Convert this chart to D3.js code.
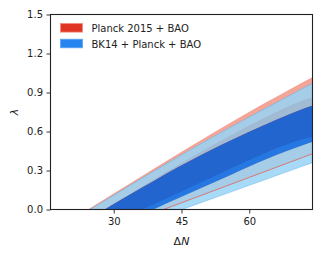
<!DOCTYPE html>
<html>
<head>
<meta charset="utf-8">
<script src="https://cdn.jsdelivr.net/npm/d3@7"></script>
<style>
body { margin: 0; background: #fff; }
svg text { font-family: 'DejaVu Sans', sans-serif; fill: #222; }
</style>
</head>
<body>
<div class="chart"></div>
<script>
// contour boundaries, lambda at each delta N
const DN = [20, 24, 28, 32, 36, 40, 44, 48, 52, 56, 60, 64, 68, 72, 76]
const planckOuterTop = [-0.095, -0.009, 0.077, 0.163, 0.249, 0.334, 0.419, 0.503, 0.586, 0.668, 0.748, 0.826, 0.902, 0.978, 1.05]
const bkOuterTop = [-0.10, -0.015, 0.068, 0.152, 0.236, 0.318, 0.400, 0.480, 0.559, 0.636, 0.712, 0.786, 0.860, 0.935, 1.005]
const planckInnerTop = [-0.16, -0.075, 0.004, 0.088, 0.172, 0.256, 0.339, 0.420, 0.498, 0.574, 0.648, 0.718, 0.785, 0.842, 0.89]
const bkInnerTop = [-0.16, -0.08, 0.0, 0.082, 0.163, 0.243, 0.321, 0.395, 0.466, 0.533, 0.598, 0.66, 0.72, 0.775, 0.82]
const planckInnerBottom = [-0.26, -0.195, -0.13, -0.07, -0.006, 0.058, 0.122, 0.186, 0.25, 0.315, 0.378, 0.44, 0.497, 0.54, 0.575]
const bkInnerBottom = [-0.30, -0.22, -0.15, -0.09, -0.04, 0.02, 0.082, 0.144, 0.206, 0.268, 0.33, 0.39, 0.447, 0.497, 0.54]
const planckOuterBottom = [-0.273, -0.221, -0.169, -0.117, -0.065, -0.013, 0.039, 0.091, 0.143, 0.195, 0.247, 0.299, 0.351, 0.403, 0.455]
const bkOuterBottom = [-0.313, -0.263, -0.213, -0.163, -0.113, -0.064, -0.014, 0.036, 0.086, 0.136, 0.186, 0.236, 0.286, 0.336, 0.385]

const X_TICKS = [30, 45, 60]
const Y_TICKS = [0, 0.3, 0.6, 0.9, 1.2, 1.5]
const LEGEND = ['Planck 2015 + BAO', 'BK14 + Planck + BAO']

const RED = '#e03424'
const RED_PALE = '#f3a597'
const BLUE = '#006fed'
const BLUE_PALE = '#96d3f4'
const ALPHA = 0.85

const width = 328
const height = 258
const margin = { top: 14.5, right: 15.5, bottom: 48.5, left: 50.5 }

const scaleX = d3.scaleLinear().domain([16, 74]).range([margin.left, width - margin.right])
const scaleY = d3.scaleLinear().domain([0, 1.5]).range([height - margin.bottom, margin.top])

const svg = d3.select('.chart').append('svg')
	.attr('width', width)
	.attr('height', height)

svg.append('clipPath').attr('id', 'plot-clip')
	.append('rect')
	.attr('x', margin.left)
	.attr('y', margin.top)
	.attr('width', width - margin.left - margin.right)
	.attr('height', height - margin.top - margin.bottom)

const plot = svg.append('g').attr('clip-path', 'url(#plot-clip)')

function band(top, bottom) {
	return d3.area()
		.x((d, i) => scaleX(DN[i]))
		.y0((d, i) => scaleY(bottom[i]))
		.y1((d, i) => scaleY(top[i]))
		.curve(d3.curveMonotoneX)(DN)
}

function edge(vals) {
	return d3.line()
		.x((d, i) => scaleX(DN[i]))
		.y((d, i) => scaleY(vals[i]))
		.curve(d3.curveMonotoneX)(DN)
}

// Planck 2015 + BAO, opaque
plot.append('path').attr('d', band(planckOuterTop, planckInnerTop)).attr('fill', RED_PALE)
plot.append('path').attr('d', band(planckInnerBottom, planckOuterBottom)).attr('fill', RED_PALE)
plot.append('path').attr('d', band(planckInnerTop, planckInnerBottom)).attr('fill', RED)

// BK14 + Planck + BAO, drawn on top with alpha
plot.append('path').attr('d', band(bkOuterTop, bkInnerTop)).attr('fill', BLUE_PALE).attr('fill-opacity', ALPHA)
plot.append('path').attr('d', band(bkInnerBottom, bkOuterBottom)).attr('fill', BLUE_PALE).attr('fill-opacity', ALPHA)
plot.append('path').attr('d', band(bkInnerTop, bkInnerBottom)).attr('fill', BLUE).attr('fill-opacity', ALPHA)

plot.append('path').attr('d', edge(planckOuterBottom))
	.attr('fill', 'none').attr('stroke', '#e06c64').attr('stroke-width', 0.9)
plot.append('path').attr('d', edge(planckOuterTop))
	.attr('fill', 'none').attr('stroke', '#ee8e80').attr('stroke-width', 0.6)
;[bkOuterTop, bkOuterBottom].forEach(v => {
	plot.append('path').attr('d', edge(v))
		.attr('fill', 'none').attr('stroke', '#5caeea').attr('stroke-width', 0.6).attr('stroke-opacity', 0.8)
})

// axes
const axisX = svg.append('g')
	.attr('transform', `translate(0, ${height - margin.bottom})`)
	.call(d3.axisBottom(scaleX).tickValues(X_TICKS).tickSize(4).tickPadding(4).tickFormat(d3.format('d')))
const axisY = svg.append('g')
	.attr('transform', `translate(${margin.left}, 0)`)
	.call(d3.axisLeft(scaleY).tickValues(Y_TICKS).tickSize(4).tickPadding(3.5).tickFormat(d3.format('.1f')))

;[axisX, axisY].forEach(a => {
	a.select('.domain').remove()
	a.selectAll('.tick line').attr('stroke', '#222').attr('stroke-width', 0.9)
	a.selectAll('.tick text').attr('font-size', 10).attr('font-family', 'DejaVu Sans').attr('fill', '#222')
})

svg.append('rect')
	.attr('x', margin.left)
	.attr('y', margin.top)
	.attr('width', width - margin.left - margin.right)
	.attr('height', height - margin.top - margin.bottom)
	.attr('fill', 'none')
	.attr('stroke', '#222')
	.attr('stroke-width', 1.1)

svg.append('text')
	.attr('x', scaleX(45))
	.attr('y', 245)
	.attr('text-anchor', 'middle')
	.attr('font-size', 11)
	.html('Δ<tspan font-style="italic">N</tspan>')

svg.append('text')
	.attr('transform', `translate(18, ${(margin.top + height - margin.bottom) / 2}) rotate(-90)`)
	.attr('text-anchor', 'middle')
	.attr('font-size', 11)
	.attr('font-style', 'italic')
	.text('λ')

// legend
const legend = svg.append('g').attr('transform', 'translate(60, 23)')
const item = legend.selectAll('.item').data(LEGEND).enter().append('g')
	.attr('class', 'item')
	.attr('transform', (d, i) => `translate(0, ${i * 15.7})`)
item.append('rect')
	.attr('x', 0.5).attr('y', 0.5)
	.attr('width', 22).attr('height', 8.6)
	.attr('fill', (d, i) => i ? BLUE : RED)
	.attr('fill-opacity', (d, i) => i ? ALPHA : 1)
	.attr('stroke', (d, i) => i ? '#5ea6ee' : '#ee8e80')
	.attr('stroke-width', 0.8)
item.append('text')
	.attr('x', 31.5)
	.attr('y', 8.8)
	.attr('font-size', 10)
	.text(d => d)
</script>
</body>
</html>
